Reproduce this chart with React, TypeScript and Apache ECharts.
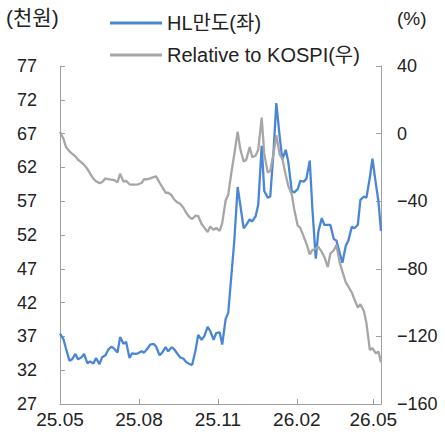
import React, { useEffect, useRef } from "react";
import * as echarts from "echarts";

// Trading-date samples (Mon/Thu) from May 2025 to May 2026
const dates: string[] = [
  "2025-05-01", "2025-05-05", "2025-05-08", "2025-05-12", "2025-05-15", "2025-05-19", "2025-05-22", "2025-05-26", "2025-05-29",
  "2025-06-02", "2025-06-05", "2025-06-09", "2025-06-12", "2025-06-16", "2025-06-19", "2025-06-23", "2025-06-26", "2025-06-30",
  "2025-07-03", "2025-07-07", "2025-07-10", "2025-07-14", "2025-07-17", "2025-07-21", "2025-07-24", "2025-07-28", "2025-07-31",
  "2025-08-04", "2025-08-07", "2025-08-11", "2025-08-14", "2025-08-18", "2025-08-21", "2025-08-25", "2025-08-28",
  "2025-09-01", "2025-09-04", "2025-09-08", "2025-09-11", "2025-09-15", "2025-09-18", "2025-09-22", "2025-09-25", "2025-09-29",
  "2025-10-02", "2025-10-06", "2025-10-09", "2025-10-13", "2025-10-16", "2025-10-20", "2025-10-23", "2025-10-27", "2025-10-30",
  "2025-11-03", "2025-11-06", "2025-11-10", "2025-11-13", "2025-11-17", "2025-11-20", "2025-11-24", "2025-11-27",
  "2025-12-01", "2025-12-04", "2025-12-08", "2025-12-11", "2025-12-15", "2025-12-18", "2025-12-22", "2025-12-25", "2025-12-29",
  "2026-01-01", "2026-01-05", "2026-01-08", "2026-01-12", "2026-01-15", "2026-01-19", "2026-01-22", "2026-01-26", "2026-01-29",
  "2026-02-02", "2026-02-05", "2026-02-09", "2026-02-12", "2026-02-16", "2026-02-19", "2026-02-23", "2026-02-26",
  "2026-03-02", "2026-03-05", "2026-03-09", "2026-03-12", "2026-03-16", "2026-03-19", "2026-03-23", "2026-03-26", "2026-03-30",
  "2026-04-02", "2026-04-06", "2026-04-09", "2026-04-13", "2026-04-16", "2026-04-20", "2026-04-23", "2026-04-27", "2026-04-30",
  "2026-05-04", "2026-05-07", "2026-05-10",
];

// HL만도 share price (천원, left axis)
const hlMando: number[] = [
  37.4, 36.6, 35.2, 33.4, 33.6, 34.4, 33.6, 33.9, 34.4,
  33.0, 33.3, 33.0, 33.8, 32.9, 33.9, 34.2, 35.0, 35.5,
  35.2, 34.6, 36.9, 35.9, 36.2, 33.8, 34.5, 34.4, 34.5,
  34.8, 34.6, 35.2, 35.8, 35.9, 35.5, 34.2, 34.6,
  35.4, 34.8, 35.4, 35.1, 34.4, 33.9, 33.7, 33.2, 32.9,
  32.8, 35.0, 37.2, 36.5, 37.0, 38.4, 37.8, 36.5, 37.5,
  37.6, 35.8, 39.6, 40.5, 46.5, 51.0, 59.1, 56.5,
  53.0, 53.5, 54.3, 54.0, 54.8, 56.5, 65.2, 58.5, 57.5,
  57.7, 64.8, 71.5, 66.5, 63.2, 64.6, 62.8, 58.5, 58.3,
  58.8, 60.0, 59.9, 60.3, 63.0, 56.0, 48.5, 52.5,
  54.5, 53.5, 53.5, 53.5, 51.4, 51.2, 49.3, 47.9, 50.4,
  51.2, 53.2, 53.0, 53.5, 57.2, 57.7, 57.5, 60.5, 63.3,
  59.6, 57.0, 52.6,
];

// Relative to KOSPI (%, right axis)
const relKospi: number[] = [
  1.1, -3.0, -8.0, -10.5, -11.8, -13.5, -15.5, -17.0, -18.5,
  -21.0, -23.5, -26.8, -28.2, -29.3, -28.8, -26.5, -27.0, -27.3,
  -27.5, -28.8, -23.8, -28.4, -28.0, -30.0, -30.2, -30.2, -30.0,
  -29.2, -27.0, -27.0, -26.5, -25.8, -25.3, -29.0, -31.5,
  -35.0, -35.0, -36.5, -39.0, -40.8, -41.5, -44.0, -46.8, -49.5,
  -50.5, -48.5, -48.8, -53.5, -55.5, -58.3, -55.0, -57.0, -55.8,
  -57.5, -53.0, -39.5, -36.3, -22.0, -12.5, 1.2, -9.0,
  -16.5, -15.5, -8.0, -14.0, -13.0, -9.5, 9.5, -12.0, -23.0,
  -22.0, -11.3, -1.0, -12.5, -14.8, -24.5, -31.0, -36.0, -45.0,
  -54.5, -55.8, -61.0, -65.0, -71.5, -69.0, -68.0, -67.0,
  -70.0, -73.0, -79.0, -71.0, -69.0, -66.0, -76.5, -81.5, -88.0,
  -90.5, -94.0, -98.0, -103.0, -101.0, -105.0, -112.0, -128.0, -127.0,
  -130.0, -129.0, -135.5,
];

const leftTicks: number[] = [27, 32, 37, 42, 47, 52, 57, 62, 67, 72, 77];
const xTickDates: string[] = ["2025-05-01", "2025-08-01", "2025-11-01", "2026-02-01", "2026-05-01"];
const xTickLabels: string[] = ["25.05", "25.08", "25.11", "26.02", "26.05"];
const axisStart = "2025-05-01";
const axisEnd = "2026-05-10";

const seriesNames = ["HL만도(좌)", "Relative to KOSPI(우)"];

const FONT = "'Liberation Sans', Arial, 'Noto Sans CJK KR', sans-serif";
const TEXT = "#222222";
const AXIS = "#a0a0a0";
const BLUE = "#4a86d6";
const GRAY = "#a6a6a6";

// day number (calendar days) of an ISO date, UTC based so DST cannot shift it
function dayNum(s: string): number {
  const [y, m, d] = s.split("-").map(Number);
  return Math.round(Date.UTC(y, m - 1, d) / 86400000);
}

export default function App() {
  const ref = useRef<HTMLDivElement>(null);

  useEffect(() => {
    if (!ref.current) return;
    const chart = echarts.init(ref.current, null, { renderer: "svg" });
    const xTicks = xTickDates.map(dayNum);
    const option: any = {
      animation: false,
      backgroundColor: "#ffffff",
      textStyle: { fontFamily: FONT },
      grid: { left: 60, right: 64, top: 66, bottom: 32, containLabel: false, outerBoundsMode: "none" },
      legend: {
        orient: "vertical",
        left: 105,
        top: 8,
        itemWidth: 52,
        itemHeight: 3,
        itemGap: 12,
        icon: "rect",
        data: seriesNames,
        textStyle: { fontSize: 20, color: TEXT, fontFamily: FONT },
      },
      graphic: [
        {
          type: "text",
          left: 6,
          top: 7,
          style: { text: "(천원)", fontSize: 21, fill: TEXT, fontFamily: FONT },
        },
        {
          type: "text",
          left: 397,
          top: 9,
          style: { text: "(%)", fontSize: 19, fill: TEXT, fontFamily: FONT },
        },
      ],
      xAxis: {
        type: "value",
        min: dayNum(axisStart),
        max: dayNum(axisEnd),
        axisLine: { show: true, onZero: false, lineStyle: { color: AXIS, width: 1 } },
        axisTick: { show: true, inside: true, length: 5, lineStyle: { color: AXIS }, customValues: xTicks },
        axisLabel: {
          customValues: xTicks,
          fontSize: 19,
          color: TEXT,
          fontFamily: FONT,
          margin: 6,
          hideOverlap: false,
          formatter: (v: number) => {
            const i = xTicks.indexOf(Math.round(v));
            return i >= 0 ? xTickLabels[i] : "";
          },
        },
        splitLine: { show: false },
      },
      yAxis: [
        {
          type: "value",
          position: "left",
          min: 27,
          max: 77,
          axisLine: { show: true, onZero: false, lineStyle: { color: AXIS, width: 1 } },
          axisTick: { show: true, inside: true, length: 5, lineStyle: { color: AXIS }, customValues: leftTicks },
          axisLabel: { customValues: leftTicks, fontSize: 18, color: TEXT, fontFamily: FONT, margin: 23 },
          splitLine: { show: false },
        },
        {
          type: "value",
          position: "right",
          min: -160,
          max: 40,
          interval: 40,
          axisLine: { show: true, onZero: false, lineStyle: { color: AXIS, width: 1 } },
          axisTick: { show: true, inside: true, length: 5, lineStyle: { color: AXIS } },
          axisLabel: {
            fontSize: 18,
            color: TEXT,
            fontFamily: FONT,
            margin: 16,
            formatter: (v: number) => (v < 0 ? "\u2212" + Math.abs(v) : String(v)),
          },
          splitLine: { show: false },
        },
      ],
      series: [
        {
          name: seriesNames[0],
          type: "line",
          yAxisIndex: 0,
          showSymbol: false,
          symbol: "none",
          color: BLUE,
          lineStyle: { color: BLUE, width: 2.3 },
          data: dates.map((d, i) => [dayNum(d), hlMando[i]]),
        },
        {
          name: seriesNames[1],
          type: "line",
          yAxisIndex: 1,
          showSymbol: false,
          symbol: "none",
          color: GRAY,
          lineStyle: { color: GRAY, width: 2.3 },
          data: dates.map((d, i) => [dayNum(d), relKospi[i]]),
        },
      ],
    };
    chart.setOption(option);
    return () => chart.dispose();
  }, []);

  return (
    <div
      ref={ref}
      style={{ position: "fixed", left: 0, top: 0, width: 445, height: 436, background: "#fff" }}
    />
  );
}
